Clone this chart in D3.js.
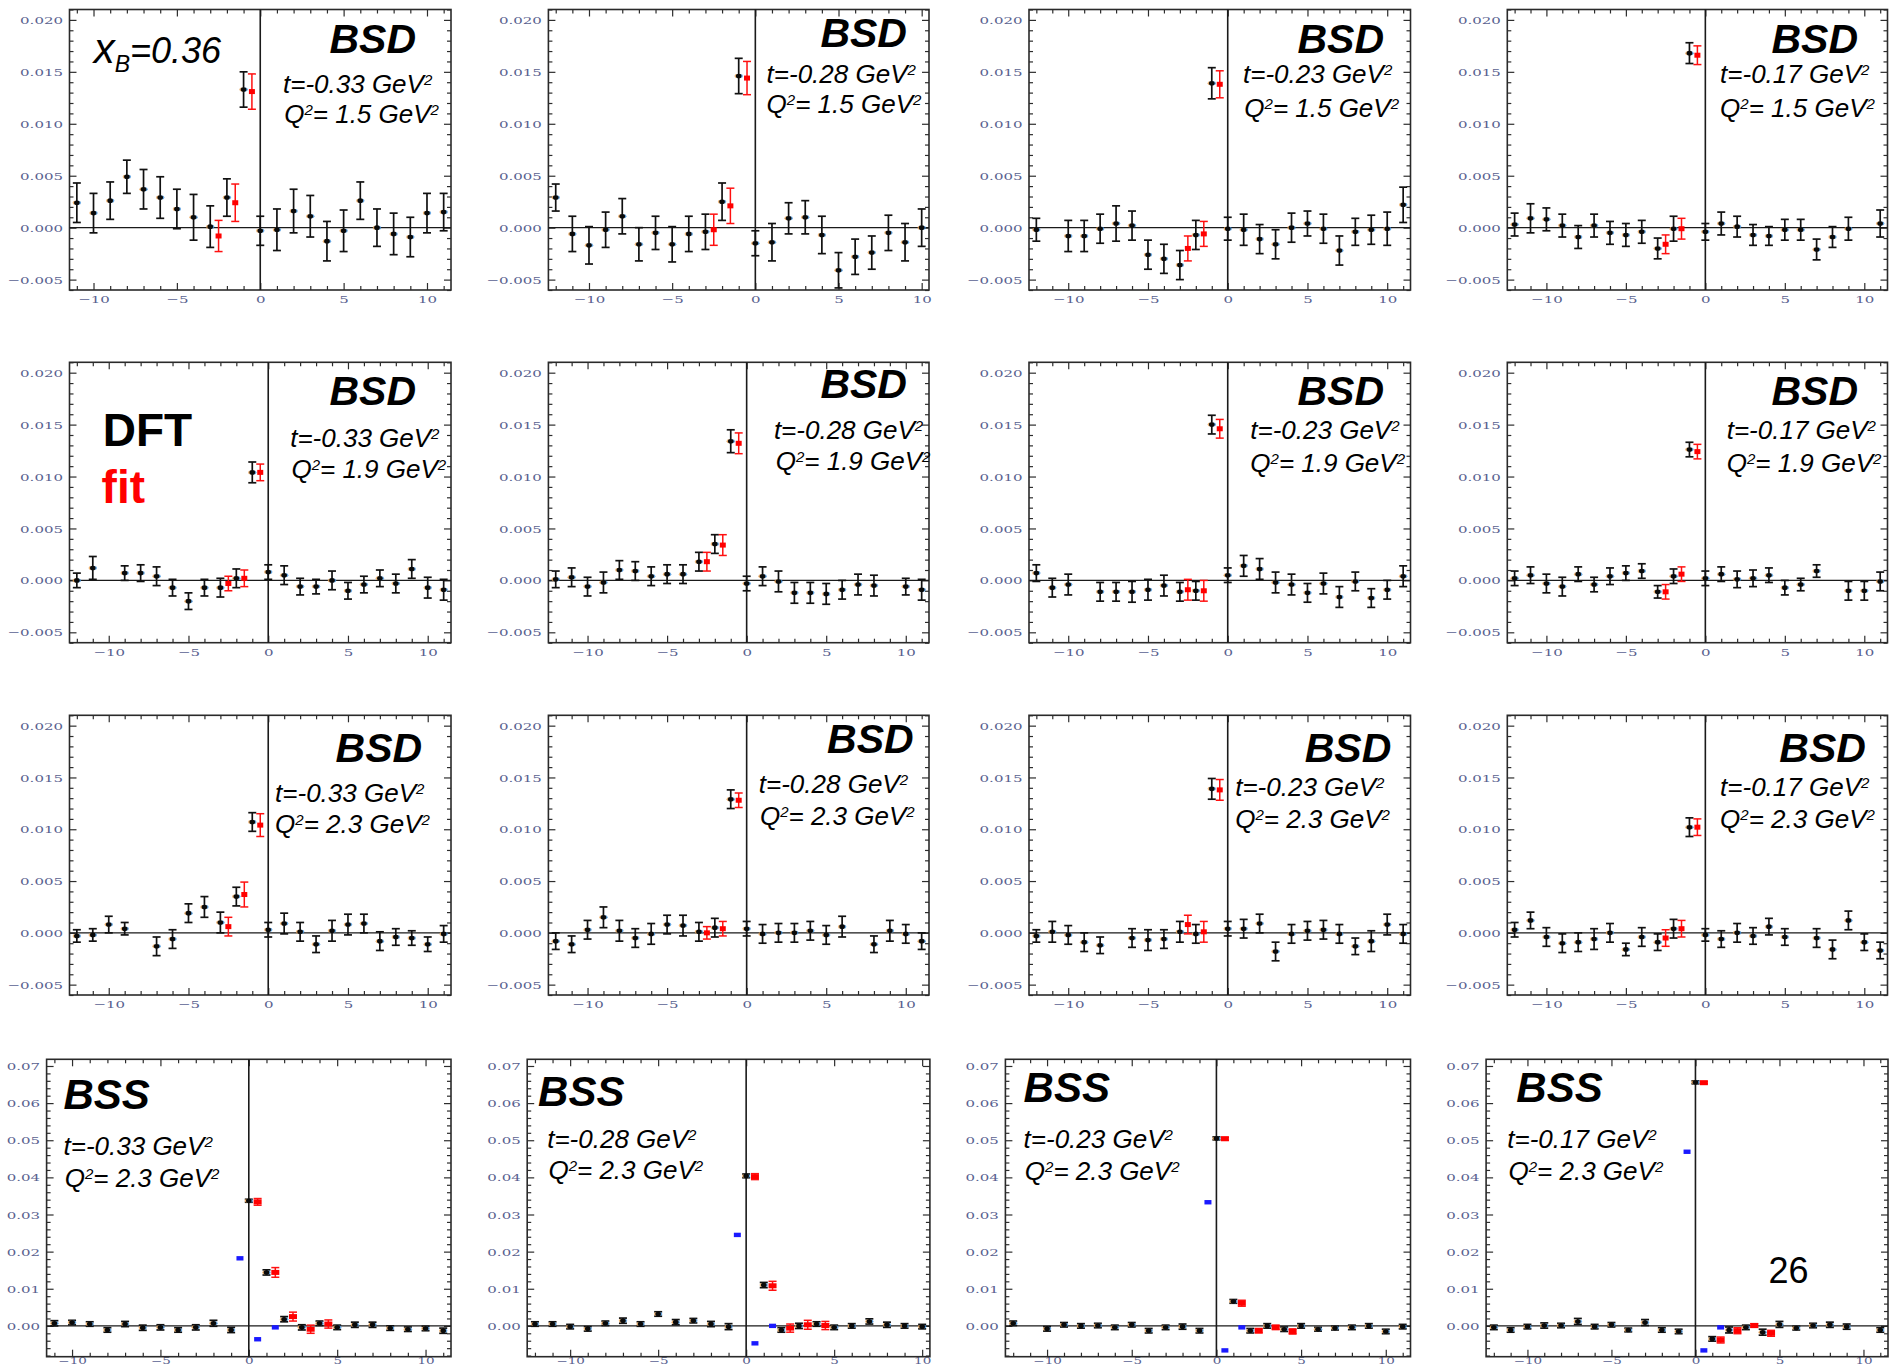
<!DOCTYPE html>
<html>
<head>
<meta charset="utf-8">
<script src="https://cdn.jsdelivr.net/npm/d3@7"></script>
<style>
  html, body { margin: 0; padding: 0; background: #ffffff; }
  svg { display: block; }
</style>
</head>
<body>
<svg id="fig" width="1896" height="1366"></svg>
<script>
// ---------------------------------------------------------------------------
// Beam-spin asymmetries vs harmonic index n, x_B = 0.36.
// Black: data [n, value, error]; red: DFT fit [n, value, error];
// blue (BSS only): model values [n, value].
// ---------------------------------------------------------------------------

// BSD, Q^2 = 1.5 GeV^2
const t033_q15_data = [[-11,.0024,.0019],[-10,.0014,.0019],[-9,.0026,.0018],[-8,.0049,.0016],[-7,.0037,.0019],[-6,.0029,.0020],[-5,.0018,.0019],[-4,.0010,.0022],[-3,.0001,.0020],[-2,.0029,.0018],[-1,.0133,.0017],[0,-.0003,.0014],[1,-.0002,.0020],[2,.0016,.0021],[3,.0011,.0020],[4,-.0013,.0019],[5,-.0003,.0020],[6,.0026,.0018],[7,.0000,.0018],[8,-.0006,.0020],[9,-.0009,.0019],[10,.0014,.0019],[11,.0015,.0018]];
const t033_q15_fit = [[-2.5,-.0008,.0015],[-1.5,.0024,.0018],[-0.5,.0131,.0017]];

const t028_q15_data = [[-12,.0029,.0013],[-11,-.0006,.0017],[-10,-.0017,.0018],[-9,-.0002,.0017],[-8,.0011,.0017],[-7,-.0016,.0016],[-6,-.0005,.0016],[-5,-.0016,.0017],[-4,-.0006,.0017],[-3,-.0004,.0017],[-2,.0025,.0018],[-1,.0146,.0017],[0,-.0015,.0012],[1,-.0014,.0018],[2,.0009,.0015],[3,.0010,.0016],[4,-.0007,.0018],[5,-.0041,.0017],[6,-.0028,.0017],[7,-.0024,.0016],[8,-.0005,.0017],[9,-.0014,.0018],[10,.0000,.0018]];
const t028_q15_fit = [[-2.5,-.0002,.0015],[-1.5,.0021,.0017],[-0.5,.0144,.0016]];

const t023_q15_data = [[-12,-.0002,.0011],[-10,-.0008,.0015],[-9,-.0008,.0015],[-8,-.0001,.0014],[-7,.0004,.0017],[-6,.0002,.0014],[-5,-.0026,.0014],[-4,-.0030,.0014],[-3,-.0036,.0014],[-2,-.0007,.0014],[-1,.0139,.0015],[0,-.0001,.0011],[1,-.0002,.0015],[2,-.0011,.0014],[3,-.0016,.0014],[4,.0000,.0014],[5,.0004,.0012],[6,-.0001,.0014],[7,-.0022,.0014],[8,-.0004,.0013],[9,-.0002,.0014],[10,-.0001,.0016],[11,.0022,.0017]];
const t023_q15_fit = [[-2.5,-.0020,.0012],[-1.5,-.0006,.0012],[-0.5,.0138,.0013]];

const t017_q15_data = [[-12,.0003,.0011],[-11,.0009,.0014],[-10,.0008,.0011],[-9,.0002,.0011],[-8,-.0009,.0011],[-7,.0002,.0011],[-6,-.0005,.0011],[-5,-.0007,.0011],[-4,-.0004,.0011],[-3,-.0020,.0010],[-2,-.0001,.0012],[-1,.0168,.0010],[0,-.0004,.0008],[1,.0004,.0011],[2,.0001,.0010],[3,-.0007,.0010],[4,-.0008,.0009],[5,-.0002,.0010],[6,-.0002,.0010],[7,-.0021,.0010],[8,-.0009,.0010],[9,-.0001,.0011],[11,.0004,.0013]];
const t017_q15_fit = [[-2.5,-.0016,.0009],[-1.5,-.0001,.0010],[-0.5,.0166,.0009]];

// BSD, Q^2 = 1.9 GeV^2
const t033_q19_data = [[-12,.0000,.0007],[-11,.0012,.0011],[-9,.0007,.0007],[-8,.0007,.0008],[-7,.0004,.0009],[-6,-.0007,.0008],[-5,-.0020,.0008],[-4,-.0007,.0008],[-3,-.0007,.0009],[-2,.0002,.0009],[-1,.0104,.0010],[0,.0008,.0007],[1,.0005,.0009],[2,-.0006,.0008],[3,-.0006,.0007],[4,.0000,.0009],[5,-.0010,.0008],[6,-.0004,.0008],[7,.0002,.0008],[8,-.0003,.0009],[9,.0011,.0009],[10,-.0007,.0010],[11,-.0009,.0010]];
const t033_q19_fit = [[-2.5,-.0003,.0007],[-1.5,.0002,.0008],[-0.5,.0104,.0008]];

const t028_q19_data = [[-12,.0001,.0008],[-11,.0003,.0009],[-10,-.0006,.0009],[-9,-.0002,.0010],[-8,.0010,.0009],[-7,.0009,.0009],[-6,.0004,.0009],[-5,.0006,.0009],[-4,.0006,.0009],[-3,.0018,.0009],[-2,.0035,.0009],[-1,.0134,.0011],[0,-.0003,.0007],[1,.0004,.0009],[2,-.0001,.0010],[3,-.0012,.0010],[4,-.0012,.0010],[5,-.0013,.0010],[6,-.0009,.0009],[7,-.0004,.0010],[8,-.0005,.0010],[10,-.0006,.0008],[11,-.0009,.0010]];
const t028_q19_fit = [[-2.5,.0018,.0009],[-1.5,.0034,.0010],[-0.5,.0132,.0010]];

const t023_q19_data = [[-12,.0007,.0008],[-11,-.0007,.0009],[-10,-.0004,.0010],[-8,-.0011,.0009],[-7,-.0011,.0009],[-6,-.0011,.0010],[-5,-.0009,.0010],[-4,-.0005,.0010],[-3,-.0011,.0009],[-2,-.0010,.0009],[-1,.0150,.0009],[0,.0005,.0007],[1,.0014,.0010],[2,.0011,.0010],[3,-.0002,.0010],[4,-.0004,.0010],[5,-.0012,.0009],[6,-.0003,.0010],[7,-.0016,.0010],[8,-.0001,.0009],[9,-.0017,.0009],[10,-.0009,.0009],[11,.0004,.0010]];
const t023_q19_fit = [[-2.5,-.0009,.0010],[-1.5,-.0010,.0010],[-0.5,.0146,.0009]];

const t017_q19_data = [[-12,.0002,.0007],[-11,.0005,.0008],[-10,-.0003,.0009],[-9,-.0006,.0009],[-8,.0006,.0007],[-7,-.0004,.0007],[-6,.0004,.0008],[-5,.0007,.0007],[-4,.0009,.0007],[-3,-.0011,.0006],[-2,.0004,.0007],[-1,.0126,.0007],[0,.0002,.0007],[1,.0006,.0007],[2,.0001,.0008],[3,.0002,.0008],[4,.0005,.0007],[5,-.0007,.0007],[6,-.0004,.0006],[7,.0009,.0006],[9,-.0010,.0009],[10,-.0010,.0009],[11,-.0001,.0009]];
const t017_q19_fit = [[-2.5,-.0011,.0007],[-1.5,.0006,.0007],[-0.5,.0124,.0007]];

// BSD, Q^2 = 2.3 GeV^2
const t033_q23_data = [[-12,-.0003,.0006],[-11,-.0002,.0006],[-10,.0008,.0008],[-9,.0004,.0006],[-7,-.0013,.0009],[-6,-.0006,.0009],[-5,.0019,.0009],[-4,.0025,.0010],[-3,.0010,.0010],[-2,.0035,.0009],[-1,.0107,.0009],[0,.0003,.0007],[1,.0009,.0010],[2,.0001,.0009],[3,-.0011,.0008],[4,.0002,.0010],[5,.0008,.0010],[6,.0009,.0009],[7,-.0008,.0009],[8,-.0004,.0008],[9,-.0005,.0007],[10,-.0011,.0007],[11,-.0001,.0008]];
const t033_q23_fit = [[-2.5,.0006,.0009],[-1.5,.0037,.0012],[-0.5,.0104,.0011]];

const t028_q23_data = [[-12,-.0008,.0008],[-11,-.0011,.0008],[-10,.0003,.0009],[-9,.0015,.0010],[-8,.0002,.0010],[-7,-.0005,.0009],[-6,-.0001,.0010],[-5,.0008,.0009],[-4,.0007,.0010],[-3,.0001,.0009],[-2,.0005,.0009],[-1,.0129,.0009],[0,.0004,.0007],[1,-.0001,.0009],[2,.0000,.0009],[3,.0000,.0009],[4,.0002,.0009],[5,-.0002,.0009],[6,.0006,.0010],[8,-.0011,.0008],[9,.0002,.0010],[10,-.0001,.0009],[11,-.0008,.0008]];
const t028_q23_fit = [[-2.5,.0000,.0006],[-1.5,.0004,.0007],[-0.5,.0128,.0007]];

const t023_q23_data = [[-12,-.0003,.0006],[-11,.0001,.0010],[-10,-.0002,.0009],[-9,-.0009,.0009],[-8,-.0012,.0008],[-6,-.0005,.0009],[-5,-.0007,.0010],[-4,-.0006,.0009],[-3,.0001,.0010],[-2,-.0001,.0009],[-1,.0139,.0010],[0,.0004,.0007],[1,.0004,.0009],[2,.0009,.0009],[3,-.0018,.0009],[4,-.0001,.0009],[5,.0002,.0009],[6,.0003,.0009],[7,-.0001,.0009],[8,-.0013,.0008],[9,-.0008,.0010],[10,.0008,.0010],[11,-.0001,.0009]];
const t023_q23_fit = [[-2.5,.0008,.0009],[-1.5,.0001,.0010],[-0.5,.0138,.0010]];

const t017_q23_data = [[-12,.0003,.0007],[-11,.0012,.0008],[-10,-.0004,.0009],[-9,-.0010,.0009],[-8,-.0009,.0009],[-7,-.0006,.0010],[-6,.0000,.0009],[-5,-.0016,.0006],[-4,-.0004,.0009],[-3,-.0009,.0008],[-2,.0004,.0009],[-1,.0102,.0009],[0,-.0002,.0006],[1,-.0006,.0008],[2,.0000,.0009],[3,-.0003,.0008],[4,.0006,.0008],[5,-.0004,.0008],[7,-.0005,.0009],[8,-.0016,.0009],[9,.0012,.0009],[10,-.0009,.0008],[11,-.0017,.0008]];
const t017_q23_fit = [[-2.5,-.0005,.0008],[-1.5,.0004,.0008],[-0.5,.0102,.0008]];

// BSS, Q^2 = 2.3 GeV^2
const t033_bss_data = [[-11,.0007,.0007],[-10,.0009,.0006],[-9,.0005,.0006],[-8,-.0011,.0006],[-7,.0005,.0007],[-6,-.0005,.0007],[-5,-.0004,.0007],[-4,-.0011,.0006],[-3,-.0004,.0007],[-2,.0007,.0008],[-1,-.0011,.0007],[0,.0337,.0004],[1,.0144,.0007],[2,.0018,.0007],[3,-.0004,.0007],[4,.0007,.0006],[5,-.0004,.0006],[6,.0003,.0007],[7,.0003,.0007],[8,-.0006,.0006],[9,-.0009,.0006],[10,-.0007,.0006],[11,-.0013,.0007]];
const t033_bss_fit = [[0.5,.0334,.0009],[1.5,.0144,.0013],[2.5,.0025,.0012],[3.5,-.0009,.0011],[4.5,.0005,.0011]];
const t033_bss_model = [[-0.5,.0182],[0.5,-.0036],[1.5,-.0004]];

const t028_bss_data = [[-12,.0005,.0006],[-11,.0005,.0006],[-10,-.0002,.0006],[-9,-.0008,.0006],[-8,.0007,.0006],[-7,.0014,.0007],[-6,.0005,.0006],[-5,.0032,.0006],[-4,.0010,.0007],[-3,.0014,.0006],[-2,.0005,.0007],[-1,-.0002,.0008],[0,.0404,.0005],[1,.0110,.0007],[2,-.0011,.0006],[3,.0000,.0007],[4,.0005,.0006],[5,-.0004,.0006],[6,.0000,.0006],[7,.0012,.0007],[8,.0003,.0007],[9,.0000,.0006],[10,-.0002,.0006]];
const t028_bss_fit = [[0.5,.0402,.0008],[1.5,.0108,.0012],[2.5,-.0006,.0011],[3.5,.0003,.0012],[4.5,.0001,.0011]];
const t028_bss_model = [[-0.5,.0245],[0.5,-.0047],[1.5,.0000]];

const t023_bss_data = [[-12,.0007,.0006],[-10,-.0008,.0006],[-9,.0003,.0006],[-8,.0000,.0006],[-7,.0001,.0006],[-6,-.0004,.0006],[-5,.0003,.0006],[-4,-.0013,.0006],[-3,-.0004,.0006],[-2,-.0002,.0007],[-1,-.0013,.0006],[0,.0505,.0004],[1,.0066,.0005],[2,-.0013,.0006],[3,.0000,.0006],[4,-.0009,.0006],[5,.0000,.0006],[6,-.0009,.0005],[7,-.0006,.0005],[8,-.0004,.0006],[9,.0000,.0006],[10,-.0015,.0006],[11,-.0002,.0006]];
const t023_bss_fit = [[0.5,.0504,.0004],[1.5,.0061,.0008],[2.5,-.0013,.0006],[3.5,-.0004,.0006],[4.5,-.0015,.0007]];
const t023_bss_model = [[-0.5,.0333],[0.5,-.0066],[1.5,-.0004]];

const t017_bss_data = [[-12,-.0004,.0006],[-11,-.0011,.0006],[-10,-.0002,.0006],[-9,.0001,.0007],[-8,.0001,.0006],[-7,.0012,.0008],[-6,-.0002,.0006],[-5,.0003,.0006],[-4,-.0011,.0005],[-3,.0009,.0008],[-2,-.0011,.0006],[-1,-.0015,.0006],[0,.0656,.0004],[1,-.0035,.0006],[2,-.0011,.0008],[3,-.0004,.0006],[4,-.0017,.0008],[5,.0004,.0008],[6,-.0006,.0005],[7,.0001,.0006],[8,.0003,.0007],[9,-.0002,.0007],[11,-.0011,.0006]];
const t017_bss_fit = [[0.5,.0655,.0003],[1.5,-.0038,.0008],[2.5,-.0013,.0008],[3.5,.0001,.0005],[4.5,-.0020,.0008]];
const t017_bss_model = [[-0.5,.0469],[0.5,-.0066],[1.5,-.0004]];

// Vertical ranges shared by every panel of a kind
const bsdRange = [-0.006, 0.021];
const bssRange = [-0.0083, 0.0718];

// Panel contents, row by row
const panels = [
  { kind: "BSD", t: "-0.33", q: "1.5", data: t033_q15_data, fit: t033_q15_fit },
  { kind: "BSD", t: "-0.28", q: "1.5", data: t028_q15_data, fit: t028_q15_fit },
  { kind: "BSD", t: "-0.23", q: "1.5", data: t023_q15_data, fit: t023_q15_fit },
  { kind: "BSD", t: "-0.17", q: "1.5", data: t017_q15_data, fit: t017_q15_fit },
  { kind: "BSD", t: "-0.33", q: "1.9", data: t033_q19_data, fit: t033_q19_fit },
  { kind: "BSD", t: "-0.28", q: "1.9", data: t028_q19_data, fit: t028_q19_fit },
  { kind: "BSD", t: "-0.23", q: "1.9", data: t023_q19_data, fit: t023_q19_fit },
  { kind: "BSD", t: "-0.17", q: "1.9", data: t017_q19_data, fit: t017_q19_fit },
  { kind: "BSD", t: "-0.33", q: "2.3", data: t033_q23_data, fit: t033_q23_fit },
  { kind: "BSD", t: "-0.28", q: "2.3", data: t028_q23_data, fit: t028_q23_fit },
  { kind: "BSD", t: "-0.23", q: "2.3", data: t023_q23_data, fit: t023_q23_fit },
  { kind: "BSD", t: "-0.17", q: "2.3", data: t017_q23_data, fit: t017_q23_fit },
  { kind: "BSS", t: "-0.33", q: "2.3", data: t033_bss_data, fit: t033_bss_fit, model: t033_bss_model },
  { kind: "BSS", t: "-0.28", q: "2.3", data: t028_bss_data, fit: t028_bss_fit, model: t028_bss_model },
  { kind: "BSS", t: "-0.23", q: "2.3", data: t023_bss_data, fit: t023_bss_fit, model: t023_bss_model },
  { kind: "BSS", t: "-0.17", q: "2.3", data: t017_bss_data, fit: t017_bss_fit, model: t017_bss_model }
];

// ---------------------------------------------------------------------------
// Layout: plot frames [left, top, right, bottom] and annotation anchors
// ---------------------------------------------------------------------------
const rowsY = [[9.5, 290], [362.3, 642.7], [715.3, 995], [1059.3, 1356.7]];
const colsX = [[69.5, 451], [548.4, 929], [1029, 1410.5], [1507.3, 1887.5]];
const colsXbss = [[46.6, 451], [527.2, 929.9], [1005.4, 1410.5], [1486.1, 1888]];
// x tick labels per row: distance from frame bottom to baseline, and font size
// (the bottom row sits right at the lower page edge)
const xLabelOffset = [13, 13, 13, 6.8];
const xLabelSize = [10, 10, 10, 9];

// [tag x, tag y], [t x, t y], [Q x, Q y]
const anchors = [
  [[329.5, 53.3], [283, 93], [284.2, 123]],
  [[820.4, 46.7], [766.6, 83.3], [766.6, 113.3]],
  [[1297.5, 53.3], [1243, 83.3], [1244.3, 116.7]],
  [[1771.5, 53.3], [1720.1, 83.3], [1720.1, 116.7]],
  [[329.5, 405], [290.2, 446.7], [291.4, 478.3]],
  [[820.4, 398.3], [773.9, 439.3], [775.7, 470]],
  [[1297.5, 405], [1250.3, 439.3], [1250.3, 471.7]],
  [[1771.5, 405], [1726.7, 439.3], [1726.7, 471.7]],
  [[335.6, 761.7], [275.1, 801.7], [275.1, 833.3]],
  [[827.1, 753.3], [758.8, 793.3], [759.9, 825]],
  [[1304.7, 761.7], [1235.2, 796], [1235.2, 828.3]],
  [[1779.3, 761.7], [1720.1, 796], [1720.1, 828.3]],
  [[63.5, 1109.3], [63.5, 1155], [64.7, 1186.7]],
  [[538.1, 1106], [547.2, 1148.3], [548.4, 1179.3]],
  [[1023.6, 1101.7], [1023.6, 1148.3], [1024.8, 1180]],
  [[1516.3, 1101.7], [1507.3, 1148.3], [1508.5, 1180]]
];

const SANS = "'Liberation Sans', Arial, Helvetica, sans-serif";
const SERIF = "'DejaVu Serif', 'Liberation Serif', serif";
const TICK_COLOR = "#59618f";

const svg = d3.select("#fig");
svg.append("rect").attr("width", 1896).attr("height", 1366).attr("fill", "#ffffff");

function stepValues(domain, step) {
  const k0 = Math.ceil(domain[0] / step - 1e-9), k1 = Math.floor(domain[1] / step + 1e-9);
  return d3.range(k0, k1 + 1).map(k => +(k * step).toFixed(6));
}

function styleAxis(g) {
  g.select(".domain").remove();
  g.selectAll(".tick line").attr("stroke", "#2d2d2d").attr("stroke-width", 1.2);
}

panels.forEach((p, i) => {
  const row = Math.floor(i / 4), col = i % 4;
  const [T, B] = rowsY[row];
  const [L, R] = (p.kind === "BSS" ? colsXbss : colsX)[col];

  const ns = p.data.map(d => d[0]);
  const lo = d3.min(ns), hi = d3.max(ns), pad = 0.02 * (hi - lo);
  const x = d3.scaleLinear().domain([lo - pad, hi + pad]).range([L, R]);
  const y = d3.scaleLinear().domain(p.kind === "BSS" ? bssRange : bsdRange).range([B, T]);

  const yMajorStep = p.kind === "BSS" ? 0.01 : 0.005;
  const yMinorStep = p.kind === "BSS" ? 0.002 : 0.001;
  const yMajor = stepValues(y.domain(), yMajorStep);
  const yMinor = stepValues(y.domain(), yMinorStep).filter(v => !yMajor.some(m => Math.abs(m - v) < 1e-9));
  const xMajor = stepValues(x.domain(), 5);
  const xMinor = stepValues(x.domain(), 1).filter(v => v % 5 !== 0);
  const yFmt = d3.format(p.kind === "BSS" ? ".2f" : ".3f");
  const xFmt = d3.format("d");

  const g = svg.append("g").attr("class", "panel");

  // Frame ticks (inside on all four sides), major then minor
  const MAJ = 7, MIN = 4;
  const axes = [
    [d3.axisLeft(y), `translate(${L},0)`, yMajor, yMinor, true],
    [d3.axisRight(y), `translate(${R},0)`, yMajor, yMinor, false],
    [d3.axisBottom(x), `translate(0,${B})`, xMajor, xMinor, true],
    [d3.axisTop(x), `translate(0,${T})`, xMajor, xMinor, false]
  ];
  axes.forEach(([ax, tr, maj, min, labelled], k) => {
    const fmt = k < 2 ? yFmt : xFmt;
    const gm = g.append("g").attr("transform", tr)
      .call(ax.tickValues(maj).tickSizeInner(-MAJ).tickSizeOuter(0).tickPadding(0)
        .tickFormat(labelled ? fmt : () => ""));
    styleAxis(gm);
    if (labelled) {
      gm.selectAll(".tick text")
        .attr("fill", TICK_COLOR).attr("font-family", SERIF).attr("font-size", 10)
        .attr("x", 0).attr("y", 0).attr("dy", null);
      if (k === 0) {
        gm.selectAll(".tick text").attr("text-anchor", "end")
          .attr("transform", "translate(-6.5,3.6) scale(1.5,1)");
      } else {
        gm.selectAll(".tick text").attr("text-anchor", "middle")
          .attr("font-size", xLabelSize[row])
          .attr("transform", `translate(0,${xLabelOffset[row]}) scale(1.5,1)`);
      }
    } else {
      gm.selectAll(".tick text").remove();
    }
    const gn = g.append("g").attr("transform", tr)
      .call(ax.tickValues(min).tickSizeInner(-MIN).tickSizeOuter(0).tickFormat(() => ""));
    styleAxis(gn);
    gn.selectAll(".tick text").remove();
  });

  // Frame
  g.append("rect")
    .attr("x", L).attr("y", T).attr("width", R - L).attr("height", B - T)
    .attr("fill", "none").attr("stroke", "#2a2a2a").attr("stroke-width", 1.6);

  // Zero axes
  g.append("line").attr("x1", L).attr("x2", R).attr("y1", y(0)).attr("y2", y(0))
    .attr("stroke", "#1a1a1a").attr("stroke-width", 1.3);
  g.append("line").attr("x1", x(0)).attr("x2", x(0)).attr("y1", T).attr("y2", B)
    .attr("stroke", "#1a1a1a").attr("stroke-width", 1.6);

  const capW = 4;

  // Error bars + markers
  function drawSeries(series, color, barW, marker) {
    const s = g.append("g");
    const pts = s.selectAll("g").data(series).join("g");
    pts.append("line")
      .attr("x1", d => x(d[0])).attr("x2", d => x(d[0]))
      .attr("y1", d => y(d[1] - d[2])).attr("y2", d => y(d[1] + d[2]))
      .attr("stroke", color).attr("stroke-width", barW);
    [-1, 1].forEach(sg => {
      pts.append("line")
        .attr("x1", d => x(d[0]) - capW).attr("x2", d => x(d[0]) + capW)
        .attr("y1", d => y(d[1] + sg * d[2])).attr("y2", d => y(d[1] + sg * d[2]))
        .attr("stroke", color).attr("stroke-width", barW);
    });
    marker(pts);
  }

  // data: black dots with a faint colour fringe
  drawSeries(p.data, "#111111", 1.7, pts => {
    pts.append("ellipse").attr("cx", d => x(d[0]) - 1.6).attr("cy", d => y(d[1]))
      .attr("rx", 2.6).attr("ry", 2).attr("fill", "#e8a050").attr("opacity", 0.8);
    pts.append("ellipse").attr("cx", d => x(d[0]) + 1.6).attr("cy", d => y(d[1]))
      .attr("rx", 2.6).attr("ry", 2).attr("fill", "#3d8fd8").attr("opacity", 0.8);
    pts.append("ellipse").attr("cx", d => x(d[0])).attr("cy", d => y(d[1]))
      .attr("rx", 2.8).attr("ry", 2.3).attr("fill", "#0a0a0a");
  });

  // fit: red squares
  const fw = p.kind === "BSS" ? 8 : 6, fh = 5;
  drawSeries(p.fit, "#ff1010", 1.5, pts => {
    pts.append("rect")
      .attr("x", d => x(d[0]) - fw / 2).attr("y", d => y(d[1]) - fh / 2)
      .attr("width", fw).attr("height", fh).attr("fill", "#ff0000");
  });

  // model: blue squares
  if (p.model) {
    g.append("g").selectAll("rect").data(p.model).join("rect")
      .attr("x", d => x(d[0]) - 3.5).attr("y", d => y(d[1]) - 2.2)
      .attr("width", 7).attr("height", 4.4).attr("fill", "#1a1aff");
  }

  // Annotations
  const [tagPos, tPos, qPos] = anchors[i];
  g.append("text")
    .attr("x", tagPos[0]).attr("y", tagPos[1])
    .attr("font-family", SANS).attr("font-weight", "bold").attr("font-style", "italic")
    .attr("font-size", p.kind === "BSS" ? 42 : 41).attr("fill", "#000")
    .text(p.kind);

  const tt = g.append("text")
    .attr("x", tPos[0]).attr("y", tPos[1])
    .attr("font-family", SANS).attr("font-style", "italic").attr("font-size", 26).attr("fill", "#000");
  tt.append("tspan").text(`t=${p.t} GeV`);
  tt.append("tspan").attr("font-size", 15).attr("dy", -8).text("2");

  const qt = g.append("text")
    .attr("x", qPos[0]).attr("y", qPos[1])
    .attr("font-family", SANS).attr("font-style", "italic").attr("font-size", 26).attr("fill", "#000");
  qt.append("tspan").text("Q");
  qt.append("tspan").attr("font-size", 15).attr("dy", -8).text("2");
  qt.append("tspan").attr("dy", 8).text(`= ${p.q} GeV`);
  qt.append("tspan").attr("font-size", 15).attr("dy", -8).text("2");
});

// Figure-level labels
const xb = svg.append("text").attr("x", 93.7).attr("y", 63)
  .attr("font-family", SANS).attr("font-style", "italic").attr("fill", "#000");
xb.append("tspan").attr("font-size", 42).text("x");
xb.append("tspan").attr("font-size", 23).attr("dy", 9).text("B");
xb.append("tspan").attr("font-size", 36).attr("dy", -9).text("=0.36");

svg.append("text").attr("x", 102.8).attr("y", 446)
  .attr("font-family", SANS).attr("font-weight", "bold").attr("font-size", 46)
  .attr("fill", "#000").text("DFT");
svg.append("text").attr("x", 101.6).attr("y", 502.7)
  .attr("font-family", SANS).attr("font-weight", "bold").attr("font-size", 46)
  .attr("fill", "#ff0000").text("fit");

svg.append("text").attr("x", 1768.4).attr("y", 1283.3)
  .attr("font-family", SANS).attr("font-size", 36).attr("fill", "#000").text("26");
</script>
</body>
</html>
